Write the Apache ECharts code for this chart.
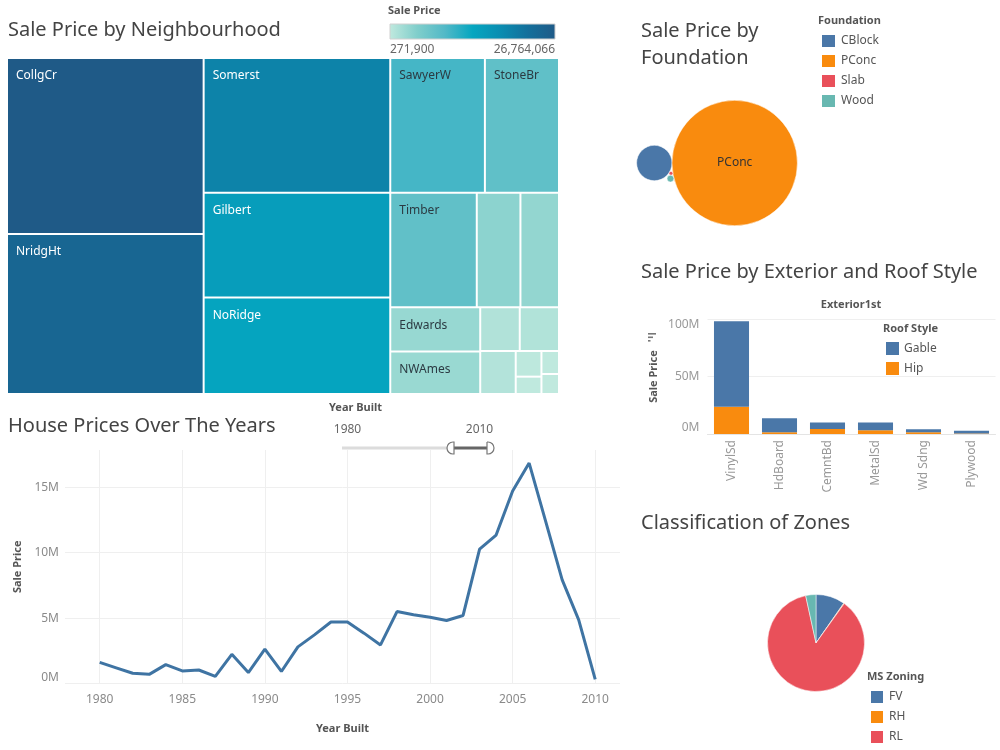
<!DOCTYPE html>
<html>
<head>
<meta charset="UTF-8">
<title>House prices dashboard</title>
<script src="https://cdn.jsdelivr.net/npm/echarts@6.0.0/dist/echarts.min.js"></script>
<style>
  html, body { margin: 0; padding: 0; background: #fff; }
  #main { width: 1000px; height: 750px; }
</style>
</head>
<body>
<div id="main"></div>
<script type="text/javascript">
// ---- data ----
var neighbourhoods = ['CollgCr', 'NridgHt', 'Somerst', 'Gilbert', 'NoRidge', 'SawyerW', 'StoneBr', 'Timber',
    'Crawfor', 'NAmes', 'Edwards', 'NWAmes', 'Mitchel', 'Blmngtn', 'ClearCr', 'Sawyer', 'OldTown', 'BrkSide', 'Veenker'];
var neighbourhoodPrices = [26764066, 24310000, 19450000, 15090000, 13930000, 9860000, 7720000, 7650000,
    3860000, 3410000, 3090000, 2950000, 1340000, 1330000, 1180000, 510000, 345000, 312000, 271900];
// cells big enough to carry a label
var labelledNeighbourhoods = ['CollgCr', 'NridgHt', 'Somerst', 'Gilbert', 'NoRidge', 'SawyerW', 'StoneBr', 'Timber', 'Edwards', 'NWAmes'];
var colorScaleTicks = [271900, 26764066];

var foundations = ['CBlock', 'PConc', 'Slab', 'Wood'];
var foundationPrices = [10500000, 131800000, 120000, 390000];

var exteriors = ['VinylSd', 'HdBoard', 'CemntBd', 'MetalSd', 'Wd Sdng', 'Plywood'];
var gablePrices = [74300000, 12200000, 5500000, 6700000, 2600000, 2500000];
var hipPrices = [23800000, 1500000, 4400000, 3200000, 1500000, 400000];
var barPriceTicks = [0, 50000000, 100000000];

var years = [1980, 1981, 1982, 1983, 1984, 1985, 1986, 1987, 1988, 1989, 1990, 1991, 1992, 1993, 1994, 1995,
    1996, 1997, 1998, 1999, 2000, 2001, 2002, 2003, 2004, 2005, 2006, 2007, 2008, 2009, 2010];
var yearPrices = [1620000, 1200000, 780000, 700000, 1440000, 960000, 1030000, 550000, 2230000, 840000, 2630000,
    920000, 2800000, 3720000, 4700000, 4700000, 3850000, 2950000, 5500000, 5250000, 5060000, 4820000, 5200000,
    10270000, 11350000, 14720000, 16850000, 12400000, 7920000, 4860000, 320000];
var yearTicks = [1980, 1985, 1990, 1995, 2000, 2005, 2010];
var linePriceTicks = [0, 5000000, 10000000, 15000000];
var sliderLabels = [1980, 2010];

var zones = ['FV', 'RH', 'RL', 'RM'];
var zonePrices = [13900000, 300000, 124300000, 4900000];
var zoneLegend = ['FV', 'RH', 'RL'];

// ---- styling ----
var FONT = 'Noto Sans';
var tabBlue = '#4a77a8', tabOrange = '#f98b0e', tabRed = '#e9505a', tabTeal = '#68b8b1';
var catColors = [tabBlue, tabOrange, tabRed, tabTeal];
var blueTeal = ['#c0e9de', '#80cecb', '#52b9c7', '#05a6c0', '#0a8db1', '#136f9b', '#1f5a87'];

function fmtM(v) { return Math.round(v / 1e6) + 'M'; }

function txt(x, y, text, size, opt) {
    opt = opt || {};
    return {
        type: 'text', x: x, y: y, silent: true,
        style: {
            text: text, fontSize: size, fontFamily: FONT,
            fontWeight: opt.bold ? 'bold' : 'normal',
            fill: opt.color || (opt.bold ? '#555' : '#444'),
            align: opt.align || 'left', textAlign: opt.align || 'left',
            verticalAlign: 'middle', textVerticalAlign: 'middle'
        }
    };
}

// ---- packed bubbles: largest in the middle, the rest tangent around it ----
function tangentCircle(a, ra, b, rb, r, side) {
    var da = ra + r, db = rb + r;
    var dx = b[0] - a[0], dy = b[1] - a[1];
    var d = Math.sqrt(dx * dx + dy * dy);
    var along = (da * da - db * db + d * d) / (2 * d);
    var h = Math.sqrt(Math.max(0, da * da - along * along));
    var ux = dx / d, uy = dy / d;
    return [a[0] + along * ux - side * h * uy, a[1] + along * uy + side * h * ux];
}
function packBubbles(values, maxR, center) {
    var vmax = Math.max.apply(null, values);
    var r = values.map(function (v) { return maxR * Math.sqrt(v / vmax); });
    var hub = values.indexOf(vmax);
    var pos = [];
    pos[hub] = [0, 0];
    var prev = -1;
    values.forEach(function (v, i) {
        if (i === hub) return;
        if (prev < 0) pos[i] = [-(r[hub] + r[i]), 0];
        else pos[i] = tangentCircle(pos[hub], r[hub], pos[prev], r[prev], r[i], -1);
        prev = i;
    });
    var x0 = Infinity, x1 = -Infinity, y0 = Infinity, y1 = -Infinity;
    pos.forEach(function (p, i) {
        x0 = Math.min(x0, p[0] - r[i]); x1 = Math.max(x1, p[0] + r[i]);
        y0 = Math.min(y0, p[1] - r[i]); y1 = Math.max(y1, p[1] + r[i]);
    });
    var ox = center[0] - (x0 + x1) / 2, oy = center[1] - (y0 + y1) / 2;
    return pos.map(function (p, i) { return { x: p[0] + ox, y: p[1] + oy, r: r[i] }; });
}
var bubbles = packBubbles(foundationPrices, 62.7, [717, 163]);

var myChart = echarts.init(document.getElementById('main'));

var series = [];

series.push({
    type: 'treemap',
    left: 8, top: 59, width: 550, height: 334,
    roam: false, nodeClick: false,
    breadcrumb: { show: false },
    label: { show: true, position: [8, 11], padding: 0, fontSize: 12, fontFamily: FONT },
    upperLabel: { show: false },
    levels: [
        {
            color: blueTeal, colorMappingBy: 'value',
            visualMin: colorScaleTicks[0], visualMax: colorScaleTicks[1],
            itemStyle: { borderWidth: 0, gapWidth: 2, borderColor: '#fff' }
        },
        { itemStyle: { borderWidth: 0 } }
    ],
    data: neighbourhoods.map(function (n, i) {
        var v = neighbourhoodPrices[i];
        return {
            name: n, value: v,
            label: {
                show: labelledNeighbourhoods.indexOf(n) >= 0,
                color: v > 12000000 ? '#ffffff' : '#2b3a42'
            }
        };
    })
});

series.push({
    type: 'line', xAxisIndex: 0, yAxisIndex: 0,
    data: years.map(function (y, i) { return [y, yearPrices[i]]; }),
    showSymbol: false, silent: true,
    lineStyle: { width: 3, color: '#3f74a3' },
    itemStyle: { color: '#3f74a3' }
});

series.push({
    type: 'bar', name: 'Hip', stack: 'roof', xAxisIndex: 1, yAxisIndex: 1,
    data: hipPrices, barCategoryGap: '27%', itemStyle: { color: tabOrange }, silent: true
});
series.push({
    type: 'bar', name: 'Gable', stack: 'roof', xAxisIndex: 1, yAxisIndex: 1,
    data: gablePrices, barCategoryGap: '27%', itemStyle: { color: tabBlue }, silent: true
});

foundations.forEach(function (f, i) {
    var b = bubbles[i];
    series.push({
        type: 'scatter', name: f, xAxisIndex: 2, yAxisIndex: 2,
        data: [[b.x, b.y]], symbolSize: 2 * b.r, silent: true,
        itemStyle: { color: catColors[i], opacity: 1, borderColor: '#fff', borderWidth: 0.5 },
        label: { show: b.r > 20, formatter: f, position: 'inside', color: '#333', fontSize: 12, fontFamily: FONT }
    });
});

series.push({
    type: 'pie', center: [816, 643], radius: 48.5, startAngle: 90, clockwise: true,
    label: { show: false }, labelLine: { show: false }, silent: true,
    itemStyle: { borderColor: '#fff', borderWidth: 0.5 },
    data: zones.map(function (z, i) { return { name: z, value: zonePrices[i], itemStyle: { color: catColors[i] } }; })
});

var axisName = { fontWeight: 'bold', color: '#555', fontSize: 11, fontFamily: FONT };
var tickText = { color: '#8a8a8a', fontSize: 12, fontFamily: FONT };

var option = {
    animation: false,
    textStyle: { fontFamily: FONT },
    grid: [
        { left: 65, top: 450, width: 555, height: 233.5, outerBoundsMode: 'none' },
        { left: 707.5, top: 319, width: 288, height: 115, outerBoundsMode: 'none' },
        { left: 600, top: 70, width: 240, height: 180, outerBoundsMode: 'none' }
    ],
    xAxis: [
        {
            type: 'value', gridIndex: 0, min: 1977.9, max: 2011.5,
            axisLine: { show: false },
            axisTick: { show: false, customValues: yearTicks },
            axisLabel: Object.assign({ customValues: yearTicks, margin: 10, formatter: function (v) { return String(v); } }, tickText),
            splitLine: { show: true, lineStyle: { color: '#efefef' } },
            name: 'Year Built', nameLocation: 'middle', nameGap: 40, nameTextStyle: axisName
        },
        {
            type: 'category', gridIndex: 1, data: exteriors,
            axisLine: { show: true, lineStyle: { color: '#e4e4e4' } },
            axisTick: { show: false },
            axisLabel: Object.assign({ rotate: 90, margin: 6, interval: 0 }, tickText, { color: '#999' })
        },
        { type: 'value', gridIndex: 2, min: 600, max: 840, show: false }
    ],
    yAxis: [
        {
            type: 'value', gridIndex: 0, min: 0, max: 17850000,
            axisLine: { show: false },
            axisTick: { show: false, customValues: linePriceTicks },
            axisLabel: Object.assign({ customValues: linePriceTicks, margin: 6, formatter: fmtM, verticalAlignMinLabel: 'bottom' }, tickText),
            splitLine: { show: true, lineStyle: { color: '#efefef' } },
            name: 'Sale Price', nameLocation: 'middle', nameGap: 37, nameTextStyle: axisName
        },
        {
            type: 'value', gridIndex: 1, min: 0, max: 100000000,
            axisLine: { show: false },
            axisTick: { show: false, customValues: barPriceTicks },
            axisLabel: Object.assign({ customValues: barPriceTicks, margin: 8, formatter: fmtM,
                verticalAlignMinLabel: 'bottom', verticalAlignMaxLabel: 'top' }, tickText, { color: '#999' }),
            splitLine: { show: true, lineStyle: { color: '#efefef' } },
            name: 'Sale Price', nameLocation: 'middle', nameGap: 48, nameTextStyle: axisName
        },
        { type: 'value', gridIndex: 2, min: 70, max: 250, inverse: true, show: false }
    ],
    legend: [
        {
            data: foundations, left: 820, top: 33, orient: 'vertical', icon: 'rect', padding: 0,
            itemWidth: 15, itemHeight: 14, itemGap: 4, selectedMode: false,
            textStyle: { color: '#555', fontSize: 12, fontFamily: FONT }
        },
        {
            data: ['Gable', 'Hip'], left: 886, top: 342, orient: 'vertical', icon: 'rect', padding: 0,
            itemWidth: 13, itemHeight: 13, itemGap: 7, selectedMode: false,
            textStyle: { color: '#555', fontSize: 12, fontFamily: FONT }
        },
        {
            data: zoneLegend, left: 869, top: 689, orient: 'vertical', icon: 'rect', padding: 0,
            itemWidth: 14, itemHeight: 14, itemGap: 4, selectedMode: false,
            textStyle: { color: '#555', fontSize: 12, fontFamily: FONT }
        }
    ],
    graphic: [
        txt(8, 30, 'Sale Price by Neighbourhood', 20),
        txt(641, 31, 'Sale Price by', 20),
        txt(641, 58, 'Foundation', 20),
        txt(641, 272, 'Sale Price by Exterior and Roof Style', 20),
        txt(8, 426, 'House Prices Over The Years', 20),
        txt(641, 523, 'Classification of Zones', 20),

        // colour legend of the treemap
        txt(388, 11, 'Sale Price', 11, { bold: true }),
        {
            type: 'rect', silent: true,
            shape: { x: 390, y: 24, width: 165, height: 15 },
            style: {
                stroke: '#d0d0d0', lineWidth: 1,
                fill: new echarts.graphic.LinearGradient(0, 0, 1, 0, blueTeal.map(function (c, i) {
                    return { offset: i / (blueTeal.length - 1), color: c };
                }))
            }
        },
        txt(390, 50, colorScaleTicks[0].toLocaleString('en-US'), 12, { color: '#666' }),
        txt(555, 50, colorScaleTicks[1].toLocaleString('en-US'), 12, { color: '#666', align: 'right' }),

        txt(818, 21, 'Foundation', 11, { bold: true }),
        txt(851, 305, 'Exterior1st', 11, { bold: true, align: 'center' }),
        txt(883, 329, 'Roof Style', 11, { bold: true }),
        txt(867, 677, 'MS Zoning', 11, { bold: true }),

        // sort icon next to the bar axis title
        { type: 'rect', silent: true, shape: { x: 648, y: 333, width: 8, height: 1.6 }, style: { fill: '#777' } },
        { type: 'rect', silent: true, shape: { x: 648, y: 336.5, width: 5, height: 1.6 }, style: { fill: '#777' } },
        { type: 'rect', silent: true, shape: { x: 648, y: 340, width: 2.5, height: 1.6 }, style: { fill: '#777' } },

        // Year Built range filter
        txt(329, 408, 'Year Built', 11, { bold: true }),
        txt(347.5, 430, String(sliderLabels[0]), 12, { color: '#666', align: 'center' }),
        txt(479.5, 430, String(sliderLabels[1]), 12, { color: '#666', align: 'center' }),
        { type: 'line', silent: true, shape: { x1: 342, y1: 448, x2: 449, y2: 448 }, style: { stroke: '#dcdcdc', lineWidth: 3 } },
        { type: 'line', silent: true, shape: { x1: 452, y1: 448, x2: 489, y2: 448 }, style: { stroke: '#666', lineWidth: 3 } },
        { type: 'rect', silent: true, shape: { x: 447, y: 442, width: 7, height: 12, r: [6, 0, 0, 6] }, style: { fill: '#fff', stroke: '#777', lineWidth: 1.2 } },
        { type: 'rect', silent: true, shape: { x: 487, y: 442, width: 7, height: 12, r: [0, 6, 6, 0] }, style: { fill: '#fff', stroke: '#777', lineWidth: 1.2 } }
    ],
    series: series
};

myChart.setOption(option);
</script>
</body>
</html>
